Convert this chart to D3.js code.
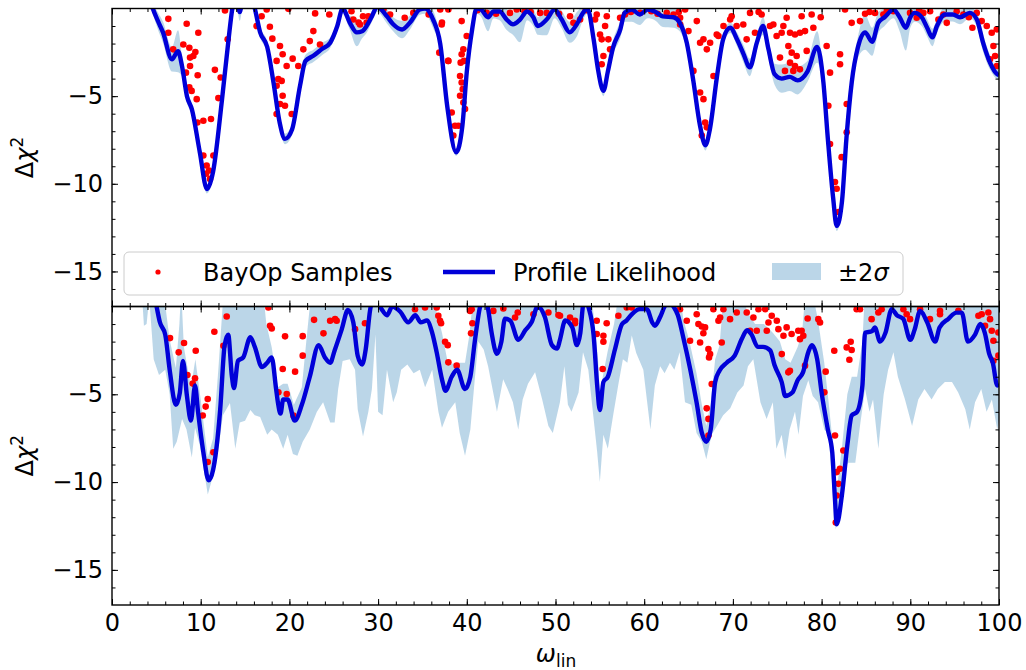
<!DOCTYPE html>
<html>
<head>
<meta charset="utf-8">
<script src="https://cdn.jsdelivr.net/npm/d3@7"></script>
<style>
body { margin: 0; background: #fff; }
text { font-family: "DejaVu Sans", sans-serif; }
</style>
</head>
<body>
<svg width="1026" height="670"></svg>
<script>
// profile likelihood, top panel
var topX = [3.5, 4.6, 5.2, 5.75, 6.75, 7.45, 7.9, 8.45, 9.0, 9.9, 10.7, 11.4, 12.4, 13.1, 13.6, 14.0, 14.4, 14.8, 15.5, 16.1,
  16.7, 17.5, 18.2, 18.9, 19.5, 20.3, 21.2, 21.8, 22.7, 23.7, 24.6, 25.4, 26.0, 26.8, 27.6, 28.2, 28.7, 29.3, 29.9, 31.0,
  31.7, 32.7, 33.6, 34.7, 35.3, 36.2, 37.0, 37.8, 38.8, 39.5, 40.0, 40.6, 41.1, 41.6, 42.4, 43.0, 43.7, 44.5, 45.2, 46.0,
  46.8, 47.5, 48.0, 49.0, 49.9, 50.7, 51.6, 52.4, 53.1, 53.6, 54.3, 54.8, 55.4, 55.9, 56.5, 57.3, 57.8, 58.6, 59.5, 60.4,
  61.2, 62.1, 63.3, 64.0, 64.8, 65.5, 66.3, 66.9, 67.4, 68.2, 68.9, 69.7, 70.5, 71.2, 71.9, 72.7, 73.4, 74.0, 74.7, 75.5,
  76.4, 77.3, 78.4, 79.5, 80.2, 80.7, 81.3, 81.7, 82.3, 82.8, 83.4, 84.1, 84.9, 85.7, 86.4, 87.1, 88.1, 88.8, 89.5, 90.0,
  90.5, 91.3, 91.9, 92.5, 93.0, 93.9, 94.8, 95.6, 96.7, 97.5, 98.2, 99.0, 99.8, 100];
var topY = [2.0, 0.0, -0.74, -1.36, -2.9, -2.44, -3.3, -5.0, -5.74, -8.2, -10.3, -9.3, -5.2, -1.95, 0.1, 0.8, -0.2, 0.8, 1.0, 0.0,
  -1.36, -2.2, -4.2, -6.5, -7.44, -6.9, -4.4, -3.0, -2.7, -2.3, -1.95, -1.0, 0.0, -0.8, -1.36, -1.3, -1.0, -0.45, 0.1, -0.45,
  -0.9, -1.2, -0.8, -0.06, 0.0, -0.63, -2.0, -5.6, -8.2, -6.7, -3.6, -1.2, 0.0, -0.06, -0.5, -0.17, -0.17, -0.63, -0.9, -0.63,
  -0.17, -0.5, -1.0, -0.63, -0.06, -0.63, -1.36, -0.9, -0.25, 0.0, -1.76, -3.5, -4.7, -3.6, -2.2, -1.2, -0.25, -0.06, -0.34, -0.06,
  -0.17, -0.45, -0.5, -0.8, -1.95, -4.0, -6.7, -7.8, -6.9, -3.9, -1.76, -1.1, -1.8, -2.6, -3.36, -1.95, -1.0, -2.3, -3.75, -4.0,
  -3.9, -4.1, -3.6, -2.2, -4.2, -7.4, -10.8, -12.4, -11.0, -7.4, -4.2, -2.2, -1.36, -1.9, -0.8, -0.5, -0.06, -0.5, -1.1, -0.5,
  -0.25, -0.5, -1.1, -1.65, -1.0, -0.34, -0.34, -0.5, -0.25, -0.63, -1.95, -3.1, -3.75, -3.8];
// 2 sigma half width, top panel
var topSig = [0.3, 0.3, 0.5, 0.6, 0.7, 1.2, 0.6, 0.4, 0.3, 0.3, 0.25, 0.3, 0.3, 0.3, 0.3, 0.5, 0.5, 0.5, 0.4, 0.3,
  0.3, 0.3, 0.3, 0.3, 0.3, 0.3, 0.35, 0.35, 0.35, 0.35, 0.3, 0.3, 0.3, 0.4, 0.8, 0.4, 0.4, 0.3, 0.3, 0.4,
  0.4, 0.5, 0.4, 0.3, 0.3, 0.5, 0.3, 0.3, 0.2, 0.3, 0.3, 0.3, 0.3, 0.4, 0.8, 0.4, 0.5, 0.6, 0.6, 1.3,
  0.5, 0.5, 0.5, 0.9, 0.5, 0.5, 0.6, 0.7, 0.4, 0.3, 0.3, 0.3, 0.3, 0.3, 0.4, 0.5, 0.5, 0.7, 0.6, 0.5,
  0.5, 0.6, 0.6, 0.5, 0.4, 0.3, 0.3, 0.3, 0.3, 0.3, 0.3, 0.3, 0.4, 0.5, 0.5, 0.4, 0.5, 0.5, 0.6, 0.8,
  0.8, 0.8, 0.6, 0.9, 0.4, 0.3, 0.3, 0.3, 0.3, 0.3, 0.4, 0.6, 1.0, 0.8, 0.6, 0.5, 0.5, 0.8, 1.3, 0.6,
  0.5, 0.5, 0.5, 0.5, 0.4, 0.4, 0.4, 0.4, 0.3, 0.4, 0.5, 0.4, 0.3, 0.3];
var topDotX = [6.35, 8.42, 6.35, 9.73, 6.9, 8.04, 8.72, 9.4, 8.8, 9.17, 8.34, 8.8, 9.66, 11.6, 12.25, 8.72, 8.98, 9.55, 11.99, 9.62,
  10.3, 11.16, 10.3, 11.43, 10.67, 10.94, 10.6, 11.05, 13.04, 12.74, 17.8, 16.3, 16.87, 18.08, 18.94, 19.24, 20.37, 18.56, 19.69, 21.0,
  18.75, 19.13, 18.56, 19.24, 18.94, 19.5, 18.56, 20.26, 17.44, 19.88, 21.57, 22.3, 22.7, 23.45, 22.9, 24.5, 27.0, 27.2, 27.8, 28.3,
  28.9, 28.7, 27.96, 30.6, 31.35, 33.0, 33.97, 35.7, 37.0, 37.2, 37.9, 36.9,
  37.17, 37.92, 39.42, 39.99, 39.61, 39.42, 39.31, 39.69, 37.92, 39.24, 39.42, 39.54, 39.24, 39.61, 38.3, 38.67, 39.05, 38.48, 39.8, 42.24,
  44.87, 45.63, 48.26, 49.01, 51.64, 52.02, 52.77, 54.46, 55.02, 55.59, 55.21, 55.96, 55.4, 55.21, 56.15, 54.65, 55.78, 57.28, 57.84, 59.54,
  62.54, 63.3, 64.05, 64.61, 64.05, 64.99, 65.93, 66.68, 66.3, 67.43, 67.06, 68.18, 68.94, 69.69, 65.55, 66.3, 66.68, 66.87, 67.06, 66.49,
  67.81, 68.37,
  69.86, 70.42, 71.17, 71.93, 71.55, 72.49, 73.24, 74.18, 74.56, 74.93, 75.69, 75.5, 76.44, 77.0, 77.56, 78.13, 78.88, 79.07, 77.75, 76.06,
  75.31, 76.25, 76.63, 77.19, 76.44, 77.0, 77.56, 75.87, 76.81, 78.32, 80.57, 80.95, 82.08, 82.08, 80.76, 82.83, 80.95, 82.83, 82.26, 81.51,
  81.7, 81.89, 83.39, 82.64, 84.33, 86.02, 86.96, 87.34, 88.09, 89.97, 90.72, 91.47, 92.23, 93.17, 93.73, 94.11, 95.23, 95.98, 97.49, 98.05,
  98.62, 99.18, 99.37, 99.75, 99.56, 98.99, 99.75,
  41.2, 43.3, 46.5, 47.2, 50.4, 53.4, 58.5, 60.8, 61.5, 63.9, 72.9, 79.9, 84.9, 85.4, 91.0, 96.6, 97.0];
var topDotY = [-0.59, -0.87, -1.38, -1.38, -2.33, -2.05, -2.24, -2.48, -2.8, -2.71, -3.66, -3.28, -3.81, -3.5, -3.94, -4.5, -4.7, -5.17, -5.11, -6.5,
  -6.4, -6.3, -8.39, -8.39, -8.96, -9.24, -9.43, -9.72, -1.76, -0.11, -1.04, -1.0, -0.44, -1.72, -2.14, -2.61, -2.86, -2.99, -3.28, -3.28,
  -4.03, -4.13, -4.41, -4.98, -5.45, -5.55, -6.02, -6.02, -0.06, -0.02, -2.33, -1.86, -1.29, -2.05, -0.28, -0.34, -0.15, -0.63, -0.8, -0.44,
  -0.44, -0.8, -0.91, -0.06, -0.34, -0.53, -0.25, -0.34, -0.06, -0.8, -2.99, -2.52,
  -0.91, -0.06, -0.72, -1.57, -2.33, -2.61, -3.09, -2.99, -2.99, -3.85, -4.22, -4.6, -4.98, -5.36, -5.93, -6.69, -6.69, -7.25, -5.74, -0.25,
  -0.25, -0.06, -0.25, -0.25, -0.44, -0.82, -0.63, -0.63, -1.48, -1.0, -1.76, -1.76, -2.71, -3.18, -2.33, -0.34, -0.44, -0.53, -0.34, -0.25,
  -0.25, -0.34, -0.53, -0.06, -0.91, -1.29, -0.72, -1.76, -1.95, -1.95, -2.33, -1.48, -1.0, -0.63, -3.56, -4.79, -5.17, -6.5, -6.78, -7.25,
  -3.85, -1.57,
  -0.44, -1.0, -0.91, -0.25, -1.76, -1.38, -0.34, -1.0, -0.91, -1.57, -1.0, -1.38, -1.38, -1.48, -1.38, -1.29, -0.34, -1.1, -0.44, -0.53,
  -2.8, -2.14, -2.52, -2.71, -3.09, -3.28, -3.47, -3.56, -3.56, -2.42, -2.14, -3.66, -2.61, -3.18, -5.55, -5.45, -7.73, -7.06, -8.48, -9.9,
  -10.28, -11.61, -0.82, -0.06, -0.72, -0.25, -0.34, -0.15, -0.15, -0.25, -0.53, -0.25, -0.15, -0.63, -0.34, -0.82, -0.15, -0.34, -0.25, -0.72,
  -1.0, -1.38, -2.14, -1.19, -2.71, -2.9, -3.28,
  -0.1, -0.3, -0.15, -0.2, -0.3, -0.1, -0.2, -0.15, -0.3, -0.2, -0.2, -0.5, -0.3, -0.2, -0.1, -0.5, -1.1];

// profile likelihood, bottom panel
var botX = [3.5, 5.0, 5.4, 6.0, 6.5, 7.2, 7.65, 8.0, 8.45, 8.9, 9.36, 9.7, 10.3, 10.9, 11.4, 12.2, 12.7, 13.1, 13.5, 13.75,
  14.2, 14.8, 15.6, 16.1, 16.9, 17.5, 18.0, 18.5, 18.7, 19.0, 19.3, 19.8, 20.6, 21.4, 22.3, 23.3, 24.0, 24.6, 25.1, 25.9,
  26.6, 27.2, 27.7, 28.2, 28.6, 29.1, 29.6, 30.4, 31.0, 31.6, 32.5, 33.4, 34.2, 34.8, 35.5, 36.1, 36.6, 37.2, 37.6, 38.3,
  38.9, 39.8, 40.4, 40.9, 41.5, 41.9, 42.4, 42.8, 43.4, 43.9, 44.3, 44.9, 45.8, 46.6, 47.3, 48.0, 48.8, 49.6, 50.2, 50.5,
  51.1, 51.9, 52.4, 52.8, 53.1, 53.4, 53.7, 54.3, 54.7, 55.0, 55.4, 55.9, 56.7, 57.5, 58.0, 58.6, 59.5, 60.3, 60.9, 61.2,
  61.8, 62.3, 62.8, 63.3, 63.8, 64.4, 65.2, 65.9, 66.5, 67.0, 67.5, 68.0, 68.5, 69.3, 70.2, 71.0, 71.6, 72.1, 72.8, 73.4,
  74.2, 74.7, 75.5, 75.9, 76.7, 77.3, 77.9, 78.5, 78.9, 79.5, 80.0, 80.7, 81.2, 81.5, 81.7, 82.3, 82.9, 83.4, 84.0, 84.6,
  84.9, 85.7, 86.0, 86.6, 87.2, 87.9, 88.5, 89.2, 90.0, 90.5, 91.1, 91.9, 92.8, 93.3, 94.3, 95.2, 95.8, 96.5, 97.3, 97.9,
  98.4, 98.9, 99.3, 99.8, 100];
var botY = [2.5, 0.05, -0.9, -1.6, -3.6, -5.6, -4.9, -3.1, -5.1, -6.5, -4.5, -6.0, -8.3, -9.9, -9.3, -5.85, -2.2, -1.6, -3.9, -4.65,
  -3.1, -2.9, -1.75, -2.3, -3.45, -3.2, -2.9, -4.7, -5.45, -6.1, -5.3, -5.3, -6.5, -5.6, -4.0, -2.2, -2.9, -3.2, -2.5, -1.3,
  -0.2, -0.9, -2.8, -3.3, -2.45, -0.2, 0.6, -0.15, -0.5, 0.0, -0.3, -0.9, -0.5, -0.9, -0.8, -1.5, -2.6, -4.15, -4.8, -4.0,
  -3.6, -4.7, -4.0, -2.0, 0.0, 0.5, -0.15, -1.5, -2.7, -2.0, -0.7, -0.8, -1.9, -1.35, -0.9, 0.0, -0.6, -2.2, -2.4, -1.9,
  -0.8, -1.2, -2.2, -1.5, 0.05, 0.5, 0.0, -1.65, -4.5, -5.9, -4.3, -4.0, -2.45, -1.0, -0.8, -0.45, -0.15, -0.15, -0.9, -1.1,
  -0.6, 0.0, 0.3, 0.0, -0.5, -1.75, -3.6, -5.45, -7.2, -7.7, -7.0, -4.3, -3.65, -3.2, -2.8, -1.85, -1.35, -1.6, -2.3, -2.3,
  -2.5, -3.35, -4.3, -5.1, -4.9, -4.2, -3.75, -2.6, -2.2, -3.0, -4.9, -7.0, -8.3, -10.9, -12.4, -10.7, -7.9, -6.2, -6.0, -4.5,
  -1.5, -1.4, -1.2, -2.0, -1.5, -0.15, -0.5, -0.7, -1.9, -1.3, -0.25, -0.9, -2.0, -1.2, -0.7, -0.35, -0.35, -2.0, -1.6, -1.0,
  -1.5, -2.7, -3.2, -4.5, -4.4];
// 2 sigma band edges, bottom panel
var botLoX = [3.4, 3.6, 3.9, 4.2, 4.7, 5.3, 6.0, 6.5, 6.9, 7.3, 7.9, 8.4, 9.0, 9.36, 9.9, 10.8, 11.8, 12.5, 13.3, 13.9,
  14.4, 15.0, 15.6, 16.1, 16.7, 17.5, 18.0, 18.7, 19.3, 19.8, 20.4, 20.9, 21.5, 22.3, 23.1, 23.8, 24.6, 25.1, 25.5, 26.0,
  26.8, 27.4, 27.7, 28.3, 28.9, 29.3, 29.7, 30.0, 30.5, 31.0, 31.7, 32.1, 32.6, 33.3, 34.0, 34.7, 35.3, 36.1, 36.8, 37.2,
  37.9, 38.7, 39.2, 39.8, 40.4, 40.9, 41.3, 41.9, 42.4, 43.4, 44.1, 44.6, 45.2, 45.8, 46.3, 46.9, 47.7, 48.5, 49.2, 49.7,
  50.5, 51.0, 51.4, 51.8, 52.2, 52.6, 53.1, 53.7, 54.3, 54.7, 55.0, 55.4, 55.9, 56.5, 57.1, 57.6, 58.1, 58.6, 59.1, 59.9,
  60.7, 61.2, 61.8, 62.3, 62.9, 63.4, 64.0, 64.6, 65.3, 65.9, 66.5, 67.0, 67.6, 68.2, 68.9, 69.7, 70.5, 71.2, 71.7, 72.3,
  73.1, 73.8, 74.5, 74.9, 75.5, 75.9, 76.4, 77.0, 77.4, 77.9, 78.5, 79.0, 79.6, 80.3, 80.8, 81.3, 81.6, 82.0, 82.4, 83.0,
  83.8, 84.3, 84.9, 85.4, 85.8, 86.4, 87.0, 87.5, 88.1, 88.6, 89.4, 90.2, 90.9, 91.6, 92.4, 93.1, 93.9, 94.7, 95.4, 96.2,
  96.7, 97.3, 98.0, 98.6, 99.2, 99.8, 100];
var botLo = [0.5, -1.1, -1.0, 0.5, -3.0, -3.9, -3.6, -5.0, -8.1, -7.7, -6.4, -7.0, -8.6, -6.9, -7.9, -10.7, -8.9, -6.2, -5.5, -8.1,
  -6.6, -6.5, -5.9, -6.2, -6.3, -7.3, -7.0, -7.3, -8.1, -7.3, -8.4, -8.5, -7.7, -7.0, -6.0, -5.45, -6.6, -6.6, -4.7, -3.1,
  -3.0, -3.6, -5.85, -7.4, -6.0, -4.7, -1.6, -6.0, -6.2, -3.6, -5.45, -4.9, -3.6, -3.3, -3.8, -3.6, -4.6, -3.6, -6.0, -6.9,
  -6.0, -5.45, -7.2, -8.5, -7.0, -4.15, -2.0, -2.45, -3.4, -6.0, -4.15, -4.7, -5.45, -7.0, -5.3, -4.4, -3.75, -5.3, -6.8, -7.2,
  -5.45, -3.4, -5.6, -6.0, -5.45, -4.9, -2.6, -3.6, -6.4, -8.3, -10.0, -7.3, -8.1, -6.2, -4.4, -3.0, -3.2, -1.65, -2.65, -3.6,
  -7.0, -4.5, -3.4, -3.8, -3.2, -3.6, -2.6, -5.45, -5.6, -7.2, -7.7, -8.7, -7.3, -6.8, -6.2, -5.8, -4.9, -4.5, -3.4, -3.0,
  -5.45, -6.4, -5.45, -8.1, -7.3, -8.7, -7.0, -6.0, -7.3, -5.1, -4.2, -5.1, -5.45, -7.0, -7.3, -11.0, -12.7, -11.5, -9.3, -8.9,
  -8.9, -6.9, -4.7, -6.0, -5.3, -8.1, -5.0, -3.6, -2.6, -4.0, -5.3, -6.8, -5.3, -4.7, -5.3, -4.7, -4.3, -4.3, -4.9, -5.85,
  -7.0, -5.45, -4.7, -6.0, -5.3, -7.0, -6.5];
var botHiX = [3.4, 4.0, 5.9, 6.5, 7.2, 7.6, 7.8, 8.1, 8.9, 9.4, 10.0, 10.8, 11.4, 12.0, 12.6, 17.0, 17.4, 18.0, 18.7, 19.3,
  19.8, 20.5, 21.4, 22.0, 22.5, 36.2, 36.6, 37.2, 37.9, 38.9, 39.8, 40.3, 40.8, 54.0, 54.4, 54.8, 55.0, 55.4, 55.9, 56.6,
  57.2, 64.0, 64.4, 65.1, 65.9, 66.5, 67.0, 67.5, 68.0, 68.5, 69.0, 71.0, 71.6, 72.5, 73.5, 74.5, 75.3, 75.9, 76.5, 77.3,
  77.8, 78.2, 78.9, 79.6, 80.3, 80.8, 81.3, 81.7, 82.3, 82.9, 83.4, 84.0, 84.6, 84.9, 100];
var botHi = [1, 1, 0.5, -1.9, -3.5, -1.0, 1.0, -2.3, -4.6, -3.0, -5.3, -8.6, -7.5, -3.5, 1, 1, -1.0, -2.3, -4.6, -4.4,
  -4.4, -5.6, -4.6, -1.5, 1, 1, -0.3, -1.5, -3.3, -3.2, -3.2, -1.6, 1, 1, -1.0, -3.0, -5.0, -3.8, -2.5, -1.0,
  1, 1, -0.7, -2.0, -3.8, -5.6, -6.8, -5.5, -3.0, -2.2, 1, 1, -0.3, -1.0, -1.0, -1.5, -2.0, -3.0, -3.2, -2.3,
  -1.5, 1, 1, -0.8, -3.2, -5.5, -8.0, -10.5, -8.0, -5.0, -4.0, -4.0, -2.0, 1, 1];
var botDotX = [6.54, 7.52, 8.12, 9.44, 8.5, 9.1, 9.36, 10.79, 10.56, 10.23, 10.79, 11.54, 12.93, 12.56, 11.43, 17.63, 17.82, 18.01, 19.51, 19.25,
  20.64, 18.76, 19.7, 20.45, 21.5, 21.5, 22.78, 23.84, 24.59, 25.15,
  25.33, 28.52, 34.16, 35.29, 36.61, 36.79, 36.98, 37.1, 37.55, 37.85, 37.92, 38.86, 40.37, 40.55, 40.63, 40.48, 42.99, 44.12, 45.44, 45.74,
  47.51, 49.2, 50.33, 27.4,
  50.51, 51.64, 52.2, 52.2, 54.65, 54.65, 55.4, 55.4, 55.32, 55.77, 57.09, 58.03, 58.59, 64.04, 64.8, 65.92, 66.11, 66.49, 66.86, 66.67,
  65.17, 66.3, 67.24, 67.43, 67.31, 68.74, 67.61, 67.05, 67.24, 67.24, 68.37, 68.56, 68.93, 69.68, 70.43, 71.56, 72.31, 72.88, 73.63, 74.01,
  74.38, 74.95, 75.13, 73.82, 72.69, 71.94, 75.51, 75.7, 67.8,
  76.06, 76.62, 77.37, 77.75, 77.94, 77.56, 78.43, 79.63, 79.82, 76.25, 76.43, 78.13, 80.46, 80.31, 81.43, 82.83, 83.28, 83.39, 83.13, 81.51,
  82.45, 82.07, 81.7, 81.89, 81.7, 83.95, 84.33, 85.64, 86.4, 86.77, 89.22, 89.59, 89.97, 91.1, 92.22, 93.35, 93.35, 95.42, 97.68, 98.05,
  98.8, 98.99, 98.43, 99.18, 99.37, 99.93, 99.93, 99.37, 81.6];
var botDotY = [-1.8, -2.61, -2.08, -2.52, -3.9, -4.39, -4.09, -5.27, -5.7, -6.21, -8.86, -1.44, -0.57, -2.24, -8.3, -0.06, -1.1, -1.25, -1.7, -3.56,
  -3.71, -4.89, -4.98, -6.21, -1.69, -2.8, -0.76, -1.53, -0.81, -0.72,
  -0.81, -0.95, -0.15, -0.06, -0.06, -0.53, -0.81, -0.95, -2.01, -2.2, -3.18, -3.37, -0.25, -0.15, -0.95, -1.53, -0.25, -0.11, -0.63, -0.34,
  -0.44, -0.34, -0.49, -1.29,
  -0.53, -0.63, -0.81, -0.95, -0.81, -1.57, -1.67, -2.01, -3.56, -0.95, -0.53, -0.06, -0.06, -0.15, -0.81, -0.44, -1.0, -1.14, -1.19, -1.52,
  -1.95, -2.05, -2.42, -2.71, -2.9, -2.05, -4.41, -5.8, -6.4, -7.35, -0.81, -0.63, -0.15, -0.72, -0.34, -0.34, -0.63, -0.15, -0.15, -0.91,
  -0.53, -0.81, -1.29, -1.38, -1.38, -1.38, -2.71, -1.67, -0.15,
  -1.19, -1.57, -1.38, -1.38, -1.67, -1.86, -0.68, -0.72, -0.91, -3.75, -3.66, -3.37, -3.71, -4.89, -2.52, -2.33, -2.01, -2.48, -3.03, -7.35,
  -8.2, -9.24, -9.43, -10.1, -10.76, -0.15, -0.15, -0.72, -0.34, -0.15, -0.15, -0.44, -0.72, -0.15, -0.72, -0.25, -0.44, -0.25, -0.53, -0.44,
  -0.34, -0.72, -1.1, -1.38, -1.95, -1.48, -2.8, -3.09, -12.3];

var xTicks = [0, 10, 20, 30, 40, 50, 60, 70, 80, 90, 100],
    yTicks = [-15, -10, -5];

var svg = d3.select("svg");
var x = d3.scaleLinear().domain([0, 100]).range([112, 999]);
var panels = [
  {top: 8.5, bottom: 306.5, lineX: topX, lineY: topY, dotX: topDotX, dotY: topDotY},
  {top: 306.5, bottom: 605, lineX: botX, lineY: botY, dotX: botDotX, dotY: botDotY}
];
var lineColor = "#0000d8", bandColor = "#1f77b4";

panels.forEach(function (p, i) {
  var y = d3.scaleLinear().domain([-17, 0]).range([p.bottom, p.top]);
  var g = svg.append("g");
  var clipId = "clip" + i;
  svg.append("clipPath").attr("id", clipId).append("rect")
    .attr("x", x(0)).attr("y", p.top).attr("width", x(100) - x(0)).attr("height", p.bottom - p.top);
  var plot = g.append("g").attr("clip-path", "url(#" + clipId + ")");

  // band
  if (i === 0) {
    var bandData = topX.map(function (d, k) { return {x: d, y: topY[k], s: topSig[k]}; });
    plot.append("path").datum(bandData)
      .attr("fill", bandColor).attr("fill-opacity", 0.3)
      .attr("d", d3.area().x(function (d) { return x(d.x); })
        .y0(function (d) { return y(d.y - d.s); })
        .y1(function (d) { return y(d.y + d.s); })
        .curve(d3.curveMonotoneX));
  } else {
    // upper edge left to right, then lower edge back
    var poly = botHiX.map(function (d, k) { return [d, botHi[k]]; })
      .concat(botLoX.map(function (d, k) { return [d, botLo[k]]; }).reverse());
    var edge = d3.line().x(function (d) { return x(d[0]); }).y(function (d) { return y(d[1]); });
    plot.append("path")
      .attr("fill", bandColor).attr("fill-opacity", 0.3)
      .attr("d", edge(poly) + "Z");
  }

  // samples
  plot.selectAll(".dot").data(p.dotX).enter().append("circle")
    .attr("class", "dot")
    .attr("cx", function (d) { return x(d); })
    .attr("cy", function (d, k) { return y(p.dotY[k]); })
    .attr("r", 3.3)
    .attr("fill", "#ff0000");

  // profile likelihood
  var lineData = p.lineX.map(function (d, k) { return [d, p.lineY[k]]; });
  plot.append("path").datum(lineData)
    .attr("fill", "none").attr("stroke", lineColor).attr("stroke-width", 4.4)
    .attr("stroke-linejoin", "round")
    .attr("d", d3.line().x(function (d) { return x(d[0]); }).y(function (d) { return y(d[1]); })
      .curve(d3.curveMonotoneX));

  // axes, ticks pointing inwards on all sides
  var fmt = i === 1 ? function (d) { return d; } : function () { return ""; };
  g.append("g").attr("class", "axis").attr("transform", "translate(0," + p.bottom + ")")
    .call(d3.axisBottom(x).tickValues(xTicks).tickSize(-6).tickPadding(9).tickFormat(fmt));
  g.append("g").attr("class", "axis").attr("transform", "translate(0," + p.bottom + ")")
    .call(d3.axisBottom(x).tickValues(d3.range(0, 101, 2)).tickSize(-3.5).tickFormat(""));
  g.append("g").attr("class", "axis").attr("transform", "translate(0," + p.top + ")")
    .call(d3.axisTop(x).tickValues(xTicks).tickSize(-6).tickFormat(""));
  g.append("g").attr("class", "axis").attr("transform", "translate(0," + p.top + ")")
    .call(d3.axisTop(x).tickValues(d3.range(0, 101, 2)).tickSize(-3.5).tickFormat(""));
  g.append("g").attr("class", "axis").attr("transform", "translate(" + x(0) + ",0)")
    .call(d3.axisLeft(y).tickValues(yTicks).tickSize(-6).tickPadding(9));
  g.append("g").attr("class", "axis").attr("transform", "translate(" + x(0) + ",0)")
    .call(d3.axisLeft(y).tickValues(d3.range(-16, 0, 1)).tickSize(-3.5).tickFormat(""));
  g.append("g").attr("class", "axis").attr("transform", "translate(" + x(100) + ",0)")
    .call(d3.axisRight(y).tickValues(yTicks).tickSize(-6).tickFormat(""));
  g.append("g").attr("class", "axis").attr("transform", "translate(" + x(100) + ",0)")
    .call(d3.axisRight(y).tickValues(d3.range(-16, 0, 1)).tickSize(-3.5).tickFormat(""));

  g.append("rect")
    .attr("x", x(0)).attr("y", p.top).attr("width", x(100) - x(0)).attr("height", p.bottom - p.top)
    .attr("fill", "none").attr("stroke", "#000").attr("stroke-width", 1.4);

  // y label
  var yl = g.append("text")
    .attr("transform", "translate(33," + ((p.top + p.bottom) / 2) + ") rotate(-90)")
    .attr("text-anchor", "middle").attr("font-size", 24);
  yl.append("tspan").text("Δ");
  yl.append("tspan").attr("font-style", "italic").text("χ");
  yl.append("tspan").attr("font-size", 17).attr("dy", -10).text("2");
});

svg.selectAll(".axis .domain").remove();
svg.selectAll(".axis line").attr("stroke", "#000").attr("stroke-width", 1);
svg.selectAll(".axis text").attr("font-size", 24).attr("fill", "#000")
  .attr("font-family", "DejaVu Sans");

// x label
var xl = svg.append("text").attr("x", 556).attr("y", 662).attr("text-anchor", "middle").attr("font-size", 24);
xl.append("tspan").attr("font-style", "italic").text("ω");
xl.append("tspan").attr("font-size", 17).attr("dy", 5).text("lin");

// legend
var leg = svg.append("g");
leg.append("rect").attr("x", 124).attr("y", 252).attr("width", 779).attr("height", 43).attr("rx", 5)
  .attr("fill", "#fff").attr("fill-opacity", 0.8).attr("stroke", "#cccccc").attr("stroke-width", 1);
leg.append("circle").attr("cx", 158).attr("cy", 272).attr("r", 2.6).attr("fill", "#ff0000");
leg.append("text").attr("x", 203).attr("y", 281).attr("font-size", 24).text("BayOp Samples");
leg.append("line").attr("x1", 443).attr("x2", 495).attr("y1", 272).attr("y2", 272)
  .attr("stroke", lineColor).attr("stroke-width", 4.4);
leg.append("text").attr("x", 513).attr("y", 281).attr("font-size", 24).text("Profile Likelihood");
leg.append("rect").attr("x", 772).attr("y", 263).attr("width", 49).attr("height", 17)
  .attr("fill", bandColor).attr("fill-opacity", 0.3);
var lt = leg.append("text").attr("x", 838).attr("y", 281).attr("font-size", 24);
lt.append("tspan").text("±2");
lt.append("tspan").attr("font-style", "italic").text("σ");
</script>
</body>
</html>
